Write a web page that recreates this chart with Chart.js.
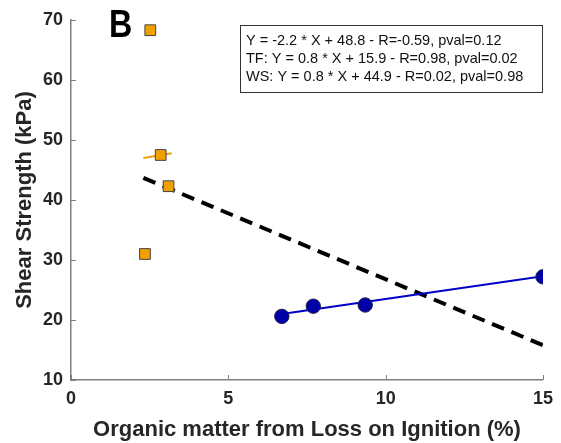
<!DOCTYPE html>
<html>
<head>
<meta charset="utf-8">
<script src="https://cdn.jsdelivr.net/npm/chart.js@4"></script>
<style>
  html, body { margin: 0; padding: 0; background: #fff; }
  #wrap { width: 561px; height: 443px; }
</style>
</head>
<body>
<div id="wrap"><canvas id="shearChart"></canvas></div>
<script>
// WS samples (orange squares)
const wsLoi = [2.52, 2.85, 3.1, 2.35]
const wsShear = [68.3, 47.5, 42.3, 31.0]
// TF samples (blue circles)
const tfLoi = [6.7, 7.7, 9.35, 15.0]
const tfShear = [20.6, 22.3, 22.5, 27.2]

// regression line end points
const allFitLoi = [2.3, 15.0]
const allFitShear = [43.7, 15.8]
const tfFitLoi = [6.7, 15.0]
const tfFitShear = [21.0, 27.3]
const wsFitLoi = [2.3, 3.2]
const wsFitShear = [47.0, 47.8]

const xTicks = [0, 5, 10, 15]
const yTicks = [10, 20, 30, 40, 50, 60, 70]

const statsLines = [
  'Y = -2.2 * X + 48.8 - R=-0.59, pval=0.12',
  'TF: Y = 0.8 * X + 15.9 - R=0.98, pval=0.02',
  'WS: Y = 0.8 * X + 44.9 - R=0.02, pval=0.98',
]
const panelLetter = 'B'

const toPoints = (xs, ys) => xs.map((x, i) => ({ x: x, y: ys[i] }))

const FONT = '"Liberation Sans", Arial, sans-serif'
const AXIS_COLOR = '#7f7f7f'
const TEXT_COLOR = '#262626'

// small inward tick marks, like the original plotting tool
const innerTicks = {
  id: 'innerTicks',
  afterDraw(chart) {
    const { ctx, scales, chartArea } = chart
    ctx.save()
    ctx.strokeStyle = AXIS_COLOR
    ctx.lineWidth = 1
    ctx.beginPath()
    xTicks.forEach((v) => {
      const px = Math.round(scales.x.getPixelForValue(v)) + 0.5
      ctx.moveTo(px, chartArea.bottom)
      ctx.lineTo(px, chartArea.bottom - 5)
    })
    yTicks.forEach((v) => {
      const py = Math.round(scales.y.getPixelForValue(v)) + 0.5
      ctx.moveTo(chartArea.left, py)
      ctx.lineTo(chartArea.left + 5, py)
    })
    ctx.stroke()
    ctx.restore()
  },
}

// stats box in the top right and the panel letter
const annotations = {
  id: 'annotations',
  afterDraw(chart) {
    const { ctx } = chart
    ctx.save()
    ctx.fillStyle = '#fff'
    ctx.fillRect(240, 25, 302, 67)
    ctx.strokeStyle = '#333'
    ctx.lineWidth = 1
    ctx.strokeRect(240.5, 25.5, 302, 67)
    ctx.fillStyle = '#111'
    ctx.font = '14.5px ' + FONT
    ctx.textBaseline = 'middle'
    statsLines.forEach((line, i) => {
      ctx.fillText(line, 246, 41 + i * 18)
    })
    ctx.restore()

    // panel letter, slightly narrow like the source font
    ctx.save()
    ctx.font = 'bold 38px ' + FONT
    ctx.fillStyle = '#000'
    ctx.textBaseline = 'alphabetic'
    ctx.translate(109, 37)
    ctx.scale(0.85, 1)
    ctx.fillText(panelLetter, 0, 0)
    ctx.restore()
  },
}

new Chart(document.getElementById('shearChart'), {
  type: 'scatter',
  data: {
    datasets: [
      {
        label: 'WS',
        data: toPoints(wsLoi, wsShear),
        pointStyle: 'rect',
        pointRadius: 7.6,
        backgroundColor: '#f0a000',
        borderColor: '#444',
        borderWidth: 1,
      },
      {
        label: 'TF',
        data: toPoints(tfLoi, tfShear),
        pointStyle: 'circle',
        pointRadius: 7.2,
        backgroundColor: '#0000a8',
        borderColor: '#222244',
        borderWidth: 1,
      },
      {
        label: 'WS fit',
        data: toPoints(wsFitLoi, wsFitShear),
        showLine: true,
        borderColor: '#f0a000',
        borderWidth: 2,
        pointRadius: 0,
      },
      {
        label: 'TF fit',
        data: toPoints(tfFitLoi, tfFitShear),
        showLine: true,
        borderColor: '#0000c8',
        borderWidth: 2,
        pointRadius: 0,
      },
      {
        label: 'All fit',
        data: toPoints(allFitLoi, allFitShear),
        showLine: true,
        borderColor: '#000',
        borderWidth: 4,
        borderDash: [13, 8],
        pointRadius: 0,
      },
    ],
  },
  options: {
    responsive: true,
    maintainAspectRatio: false,
    animation: false,
    layout: { padding: { top: 20, right: 18, left: 0, bottom: 0 } },
    plugins: {
      legend: { display: false },
      tooltip: { enabled: false },
    },
    scales: {
      x: {
        type: 'linear',
        min: 0,
        max: 15,
        afterFit: (scale) => { scale.height = 63 },
        afterBuildTicks: (scale) => { scale.ticks = xTicks.map((v) => ({ value: v })) },
        grid: { display: false, drawTicks: false },
        border: { display: true, color: AXIS_COLOR, width: 1.5 },
        ticks: {
          padding: 8,
          color: TEXT_COLOR,
          font: { family: FONT, size: 18, weight: 'bold' },
        },
        title: {
          display: true,
          text: 'Organic matter from Loss on Ignition (%)',
          color: TEXT_COLOR,
          padding: { top: 0, bottom: 0 },
          font: { family: FONT, size: 22, weight: 'bold' },
        },
      },
      y: {
        type: 'linear',
        min: 10,
        max: 70,
        afterFit: (scale) => { scale.width = 71 },
        afterBuildTicks: (scale) => { scale.ticks = yTicks.map((v) => ({ value: v })) },
        grid: { display: false, drawTicks: false },
        border: { display: true, color: AXIS_COLOR, width: 1.5 },
        ticks: {
          padding: 8,
          color: TEXT_COLOR,
          font: { family: FONT, size: 18, weight: 'bold' },
        },
        title: {
          display: true,
          text: 'Shear Strength (kPa)',
          color: TEXT_COLOR,
          padding: { top: 12, bottom: 0 },
          font: { family: FONT, size: 22, weight: 'bold' },
        },
      },
    },
  },
  plugins: [innerTicks, annotations],
})
</script>
</body>
</html>
